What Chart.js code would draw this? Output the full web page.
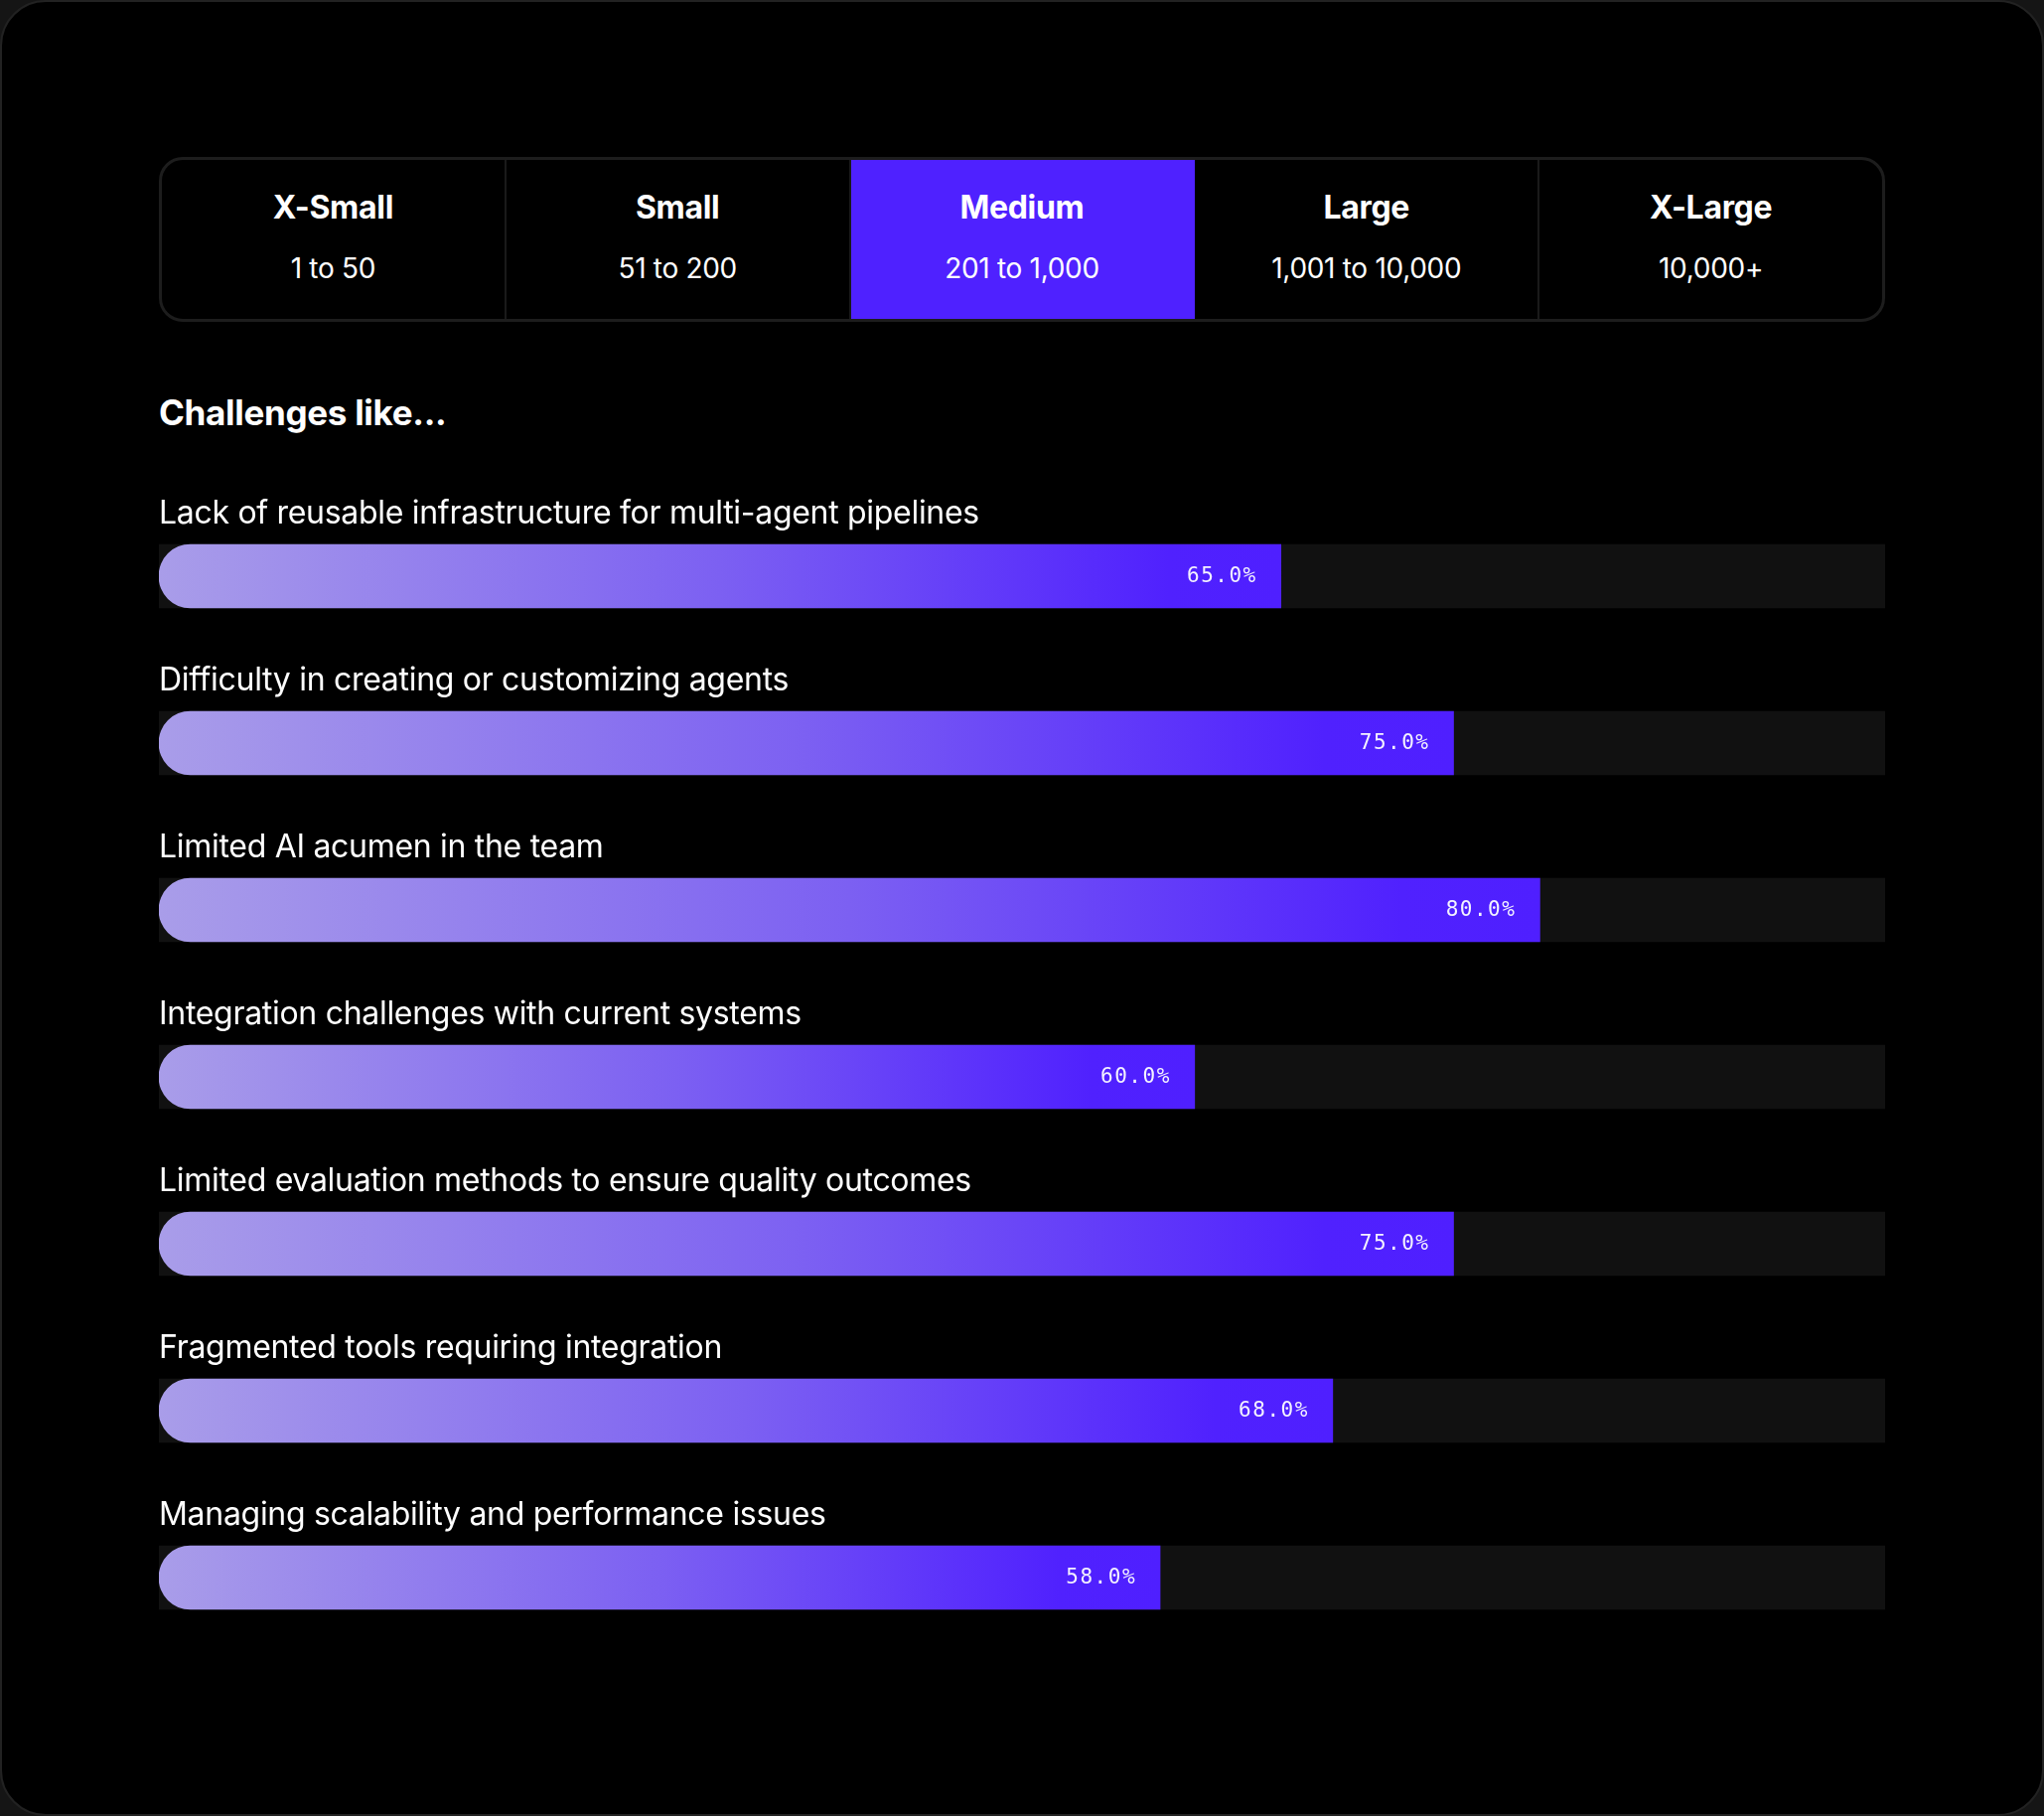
<!DOCTYPE html>
<html>
<head>
<meta charset="utf-8">
<script src="https://cdn.jsdelivr.net/npm/chart.js@4.4.1/dist/chart.umd.min.js"></script>
<style>
  html, body { margin: 0; padding: 0; background: #151515; }
  body { width: 2058px; height: 1828px; position: relative; overflow: hidden; font-family: Inter, "Noto Sans", sans-serif; }
  #card { position: absolute; left: 0; top: 0; width: 2058px; height: 1828px; box-sizing: border-box;
          background: #000; border-radius: 46px; border: 2px solid #222; }
  #tabs { position: absolute; left: 160px; top: 158px; width: 1738px; height: 166px; box-sizing: border-box;
          border: 3px solid #1d1d1d; border-radius: 24px; overflow: hidden; display: flex; }
  .tab { flex: 1; position: relative; color: #fff; text-align: center; border-right: 2px solid #1a1a1a; }
  .tab:last-child { border-right: none; }
  .tab.active { background: #4f21ff; border-right-color: #4f21ff; }
  .tab .t { position: absolute; left: 0; right: 0; top: 28px; font-size: 32px; font-weight: 700; line-height: 40px; letter-spacing: -0.3px; }
  .tab .s { position: absolute; left: 0; right: 0; top: 90px; font-size: 28px; font-weight: 400; line-height: 38px; letter-spacing: -0.3px; }
  #title { position: absolute; left: 160px; top: 393px; color: #fff; font-size: 35px; font-weight: 700; line-height: 44px; letter-spacing: -0.3px; }
  #chart { position: absolute; left: 160px; top: 496px; }
</style>
</head>
<body>
<div id="card"></div>
<div id="tabs"></div>
<div id="title">Challenges like...</div>
<canvas id="chart" width="1738" height="1176"></canvas>
<script>
const tabNames = ["X-Small", "Small", "Medium", "Large", "X-Large"];
const tabRanges = ["1 to 50", "51 to 200", "201 to 1,000", "1,001 to 10,000", "10,000+"];
const activeTab = 2;

const categories = [
  "Lack of reusable infrastructure for multi-agent pipelines",
  "Difficulty in creating or customizing agents",
  "Limited AI acumen in the team",
  "Integration challenges with current systems",
  "Limited evaluation methods to ensure quality outcomes",
  "Fragmented tools requiring integration",
  "Managing scalability and performance issues"
];
const values = [65, 75, 80, 60, 75, 68, 58];
const trackValues = [100, 100, 100, 100, 100, 100, 100];

// tabs
const tabsEl = document.getElementById('tabs');
tabNames.forEach((n, i) => {
  const d = document.createElement('div');
  d.className = 'tab' + (i === activeTab ? ' active' : '');
  d.innerHTML = '<div class="t"></div><div class="s"></div>';
  d.querySelector('.t').textContent = n;
  d.querySelector('.s').textContent = tabRanges[i];
  tabsEl.appendChild(d);
});

function barGradient(ctx) {
  const chart = ctx.chart;
  if (!chart.chartArea) return '#4f1fff';
  const xs = chart.scales.x;
  const x0 = xs.getPixelForValue(0);
  const x1 = xs.getPixelForValue(values[ctx.dataIndex]);
  const g = chart.ctx.createLinearGradient(x0, 0, x1, 0);
  g.addColorStop(0, '#a99de9');
  g.addColorStop(0.5, '#7c60f2');
  g.addColorStop(0.9, '#5021fe');
  g.addColorStop(1, '#4f1fff');
  return g;
}

const labelPlugin = {
  id: 'labels',
  afterDatasetsDraw(chart) {
    const ctx = chart.ctx;
    const meta = chart.getDatasetMeta(0);
    ctx.save();
    meta.data.forEach((el, i) => {
      ctx.font = '400 32px Inter, "Noto Sans", sans-serif';
      ctx.letterSpacing = '-0.3px';
      ctx.fillStyle = '#ffffff';
      ctx.textAlign = 'left';
      ctx.textBaseline = 'middle';
      ctx.fillText(categories[i], chart.chartArea.left, el.y - 63);
      ctx.font = '400 21px "DejaVu Sans Mono", "Liberation Mono", monospace';
      ctx.letterSpacing = '1.5px';
      ctx.fillStyle = '#f4f2ff';
      ctx.textAlign = 'right';
      ctx.fillText(values[i].toFixed(1) + '%', el.x - 24, el.y + 1);
    });
    ctx.restore();
  }
};

new Chart(document.getElementById('chart'), {
  type: 'bar',
  data: {
    labels: categories,
    datasets: [
      {
        data: values,
        backgroundColor: barGradient,
        barThickness: 64,
        grouped: false,
        order: 1,
        borderSkipped: false,
        borderRadius: { topLeft: 32, bottomLeft: 32, topRight: 0, bottomRight: 0 }
      },
      {
        data: trackValues,
        backgroundColor: '#111111',
        barThickness: 64,
        grouped: false,
        order: 2,
        borderRadius: 0
      }
    ]
  },
  options: {
    indexAxis: 'y',
    responsive: false,
    devicePixelRatio: 1,
    animation: false,
    layout: { padding: 0 },
    plugins: { legend: { display: false }, tooltip: { enabled: false } },
    scales: {
      x: { display: false, min: 0, max: 100 },
      y: { display: false, offset: true }
    }
  },
  plugins: [labelPlugin]
});
</script>
</body>
</html>
